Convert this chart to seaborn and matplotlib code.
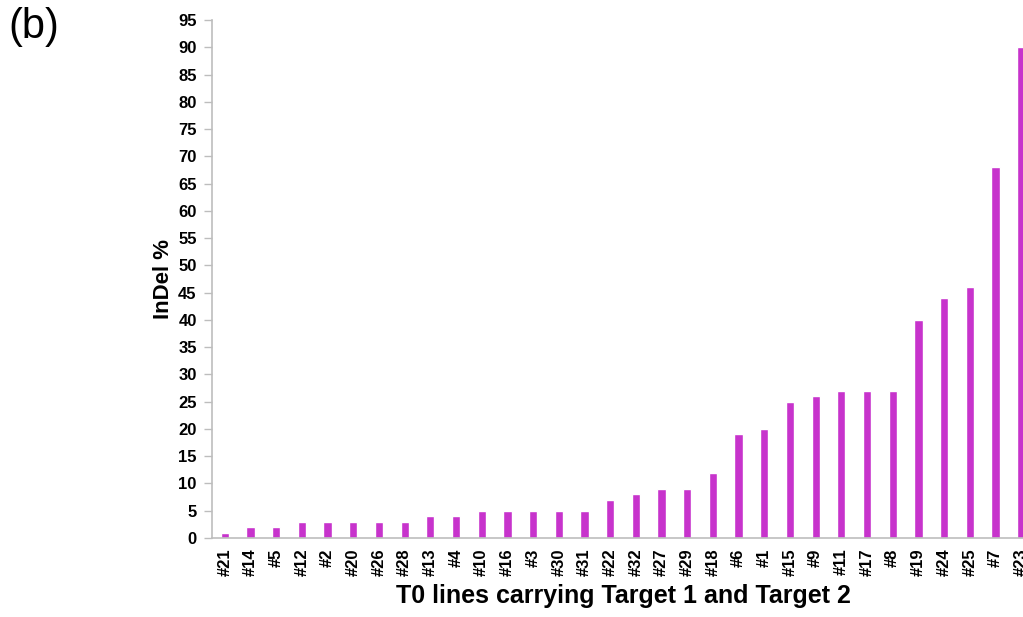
import matplotlib
matplotlib.use("Agg")
import matplotlib.pyplot as plt
import seaborn as sns
import pandas as pd

lines = ["#21", "#14", "#5", "#12", "#2", "#20", "#26", "#28", "#13", "#4",
         "#10", "#16", "#3", "#30", "#31", "#22", "#32", "#27", "#29", "#18",
         "#6", "#1", "#15", "#9", "#11", "#17", "#8", "#19", "#24", "#25",
         "#7", "#23"]
indel = [1, 2, 2, 3, 3, 3, 3, 3, 4, 4,
         5, 5, 5, 5, 5, 7, 8, 9, 9, 12,
         19, 20, 25, 26, 27, 27, 27, 40, 44, 46,
         68, 90]
yticks = list(range(0, 100, 5))

sns.set_style("white")
plt.rcParams["font.family"] = ["Liberation Sans", "DejaVu Sans"]
plt.rcParams["text.color"] = "black"
plt.rcParams["axes.labelcolor"] = "black"
plt.rcParams["xtick.color"] = "black"
plt.rcParams["ytick.color"] = "black"

df = pd.DataFrame({"line": lines, "indel": indel})

fig = plt.figure(figsize=(10.23, 6.17), dpi=100)
ax = fig.add_axes([212 / 1023, 79 / 617, 822 / 1023, 518 / 617])

sns.barplot(data=df, x="line", y="indel", order=lines, color="#C733CC",
            saturation=1, width=0.32, ax=ax)

ax.set_xlim(-0.5, len(lines) - 0.5)
ax.set_ylim(0, 95)
ax.set_yticks(yticks)
ax.set_yticklabels([str(t) for t in yticks], fontsize=12, fontweight="bold")
ax.set_xticks(range(len(lines)))
ax.set_xticklabels(lines, rotation=90, fontsize=12, fontweight="bold")

for side in ("top", "right"):
    ax.spines[side].set_visible(False)
for side in ("left", "bottom"):
    ax.spines[side].set_color("#BDBDBD")
    ax.spines[side].set_linewidth(1.2)

ax.tick_params(axis="y", which="major", left=True, length=6, width=1,
               color="#BDBDBD", labelcolor="black", pad=5)
ax.tick_params(axis="x", which="major", bottom=False, pad=4,
               labelcolor="black")

ax.set_ylabel("InDel %", fontsize=16, fontweight="bold", labelpad=3)
ax.set_xlabel("T0 lines carrying Target 1 and Target 2", fontsize=18,
              fontweight="bold", labelpad=6)

fig.text(0.008, 0.988, "(b)", fontsize=30, va="top", ha="left")

fig.savefig("out.png", dpi=100)
